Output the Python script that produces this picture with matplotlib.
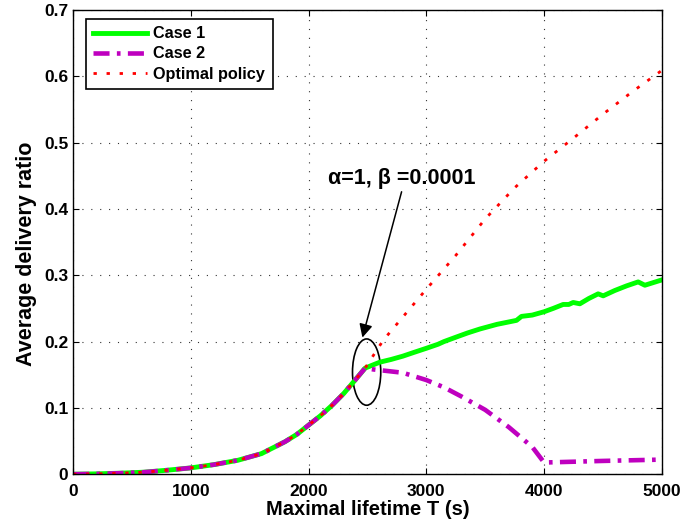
import matplotlib.pyplot as plt
from matplotlib.patches import Ellipse

plt.rcParams['font.family'] = ['Liberation Sans', 'DejaVu Sans']
plt.rcParams['font.weight'] = 'bold'

# shared rising part (all three curves coincide here)
t_rise = [0, 200, 400, 600, 800, 1000, 1200, 1400, 1600, 1800, 1900, 2000,
          2100, 2200, 2300, 2400, 2480]
rise = [0, 0.0005, 0.0015, 0.003, 0.006, 0.0095, 0.0145, 0.021, 0.031, 0.049,
        0.06, 0.074, 0.088, 0.104, 0.122, 0.143, 0.16]

t_case1 = [2550, 2606, 2700, 2800, 2900, 3002, 3100, 3150, 3257, 3350, 3455,
           3600, 3766, 3808, 3900, 4000, 4077, 4162, 4210, 4247, 4304, 4380,
           4459, 4502, 4600, 4700, 4799, 4856, 5000]
case1 = [0.165, 0.169, 0.173, 0.178, 0.184, 0.19, 0.196, 0.2, 0.207, 0.213,
         0.219, 0.226, 0.232, 0.238, 0.24, 0.245, 0.25, 0.256, 0.256, 0.259,
         0.257, 0.265, 0.272, 0.269, 0.277, 0.284, 0.29, 0.285, 0.293]

t_case2 = [2550, 2700, 2800, 3000, 3150, 3300, 3500, 3700, 3900, 4000, 4500, 5000]
case2 = [0.158, 0.155, 0.153, 0.142, 0.131, 0.117, 0.097, 0.071, 0.041,
         0.0176, 0.02, 0.022]

t_opt = [2634, 2800, 3000, 3250, 3500, 3750, 4000, 4250, 4500, 4750, 5000]
opt = [0.202, 0.237, 0.279, 0.33, 0.385, 0.432, 0.472, 0.507, 0.543, 0.577, 0.609]

fig = plt.figure(figsize=(6.83, 5.31), dpi=100)
ax = fig.add_axes([0.107, 0.107, 0.862, 0.874])

ax.plot(t_rise + t_case1, rise + case1, color='#00ff00', lw=3.5, label='Case 1')
ax.plot(t_rise + t_case2, rise + case2, color='#bf00bf', lw=3.3,
        ls=(0, (3.5, 1.6, 0.8, 1.6)), label='Case 2')
ax.plot(t_rise + t_opt, rise + opt, color='red', lw=2,
        ls=(0, (1.2, 3.5)), label='Optimal policy')

# annotation
ax.add_patch(Ellipse((2493, 0.154), 240, 0.1, fill=False, ec='black', lw=1.2))
ax.annotate('', xy=(2451, 0.202), xytext=(2796, 0.43),
            arrowprops=dict(arrowstyle='-|>', color='black', lw=1.1,
                            mutation_scale=20))
ax.text(2793, 0.446, u'\u03b1=1, \u03b2 =0.0001', ha='center', va='center',
        fontsize=15.5, fontweight='bold')

ax.set_xlim(0, 5000)
ax.set_ylim(0, 0.7)
ax.set_xticks(range(0, 5001, 1000))
ax.set_yticks([0, 0.1, 0.2, 0.3, 0.4, 0.5, 0.6, 0.7])
ax.set_yticklabels(['0', '0.1', '0.2', '0.3', '0.4', '0.5', '0.6', '0.7'])
ax.tick_params(direction='in', labelsize=12.5, top=True, right=True, length=4)
ax.tick_params(axis='x', pad=7)
ax.grid(True, ls=(0, (1, 7)), color='#333333', lw=0.8)
for s in ax.spines.values():
    s.set_linewidth(1)

ax.set_xlabel('Maximal lifetime T (s)', fontsize=14.5, fontweight='bold', labelpad=1)
ax.set_ylabel('Average delivery ratio', fontsize=15.5, fontweight='bold')
ax.yaxis.set_label_coords(-0.062, 0.474)

leg = ax.legend(loc='upper left', fontsize=11.7, fancybox=False, framealpha=1,
                edgecolor='black', borderpad=0.45, labelspacing=0.32,
                handlelength=3.3, handletextpad=0.4, borderaxespad=0,
                bbox_to_anchor=(0.022, 0.981))
leg.get_frame().set_linewidth(1.2)

fig.savefig('out.png', dpi=100)
